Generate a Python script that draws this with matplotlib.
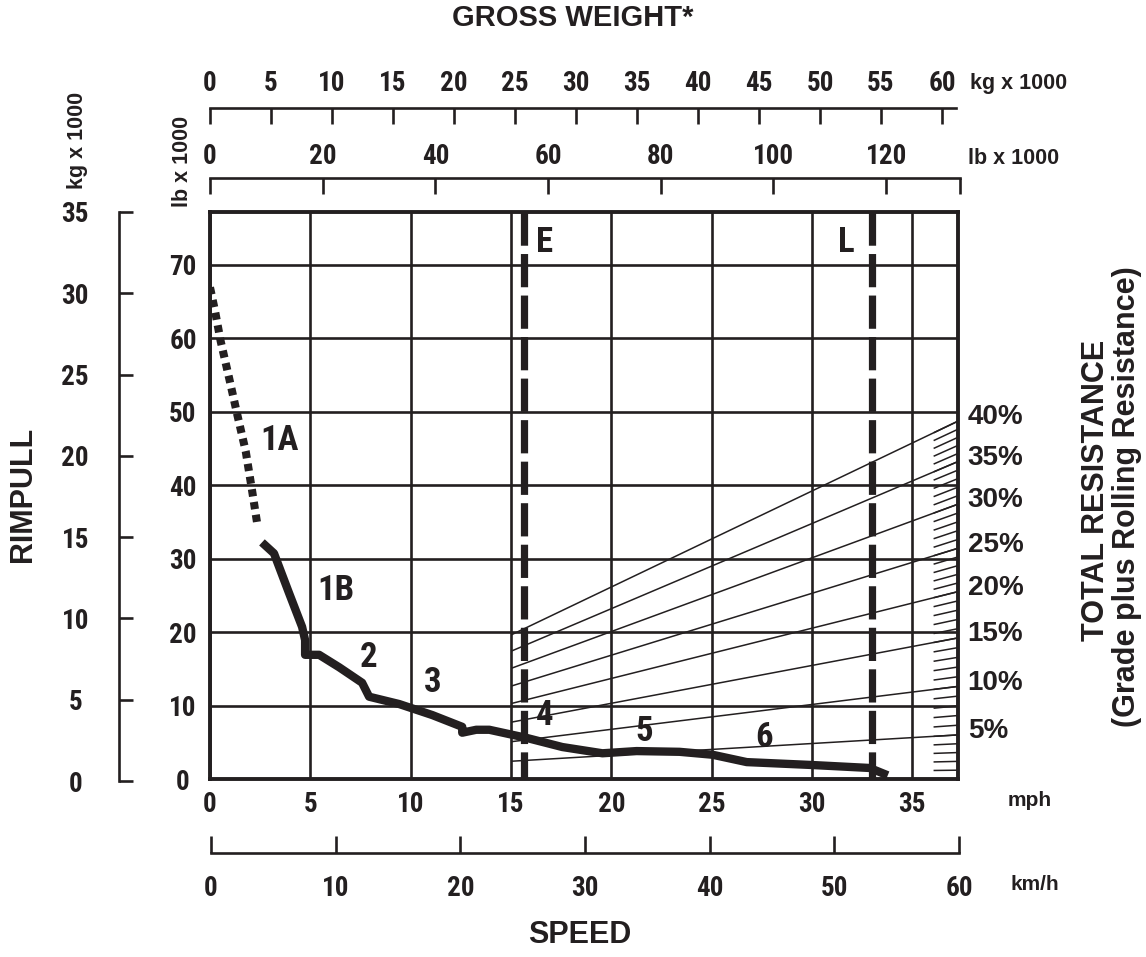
import numpy as np
import matplotlib.pyplot as plt

W, H = 1146, 957
INK = '#231f20'
NARROW = ['Roboto Condensed', 'DejaVu Sans Condensed', 'Liberation Sans Narrow',
          'Liberation Sans']
BOLD = ['Liberation Sans', 'DejaVu Sans']

# scales
mph_max = 37.28        # = 60 km/h
lb_max = 77.16         # = 35 kg x 1000
mph_ticks = [0, 5, 10, 15, 20, 25, 30, 35]
kmh_ticks = [0, 10, 20, 30, 40, 50, 60]
lb_ticks = [0, 10, 20, 30, 40, 50, 60, 70]
kg_ticks = [0, 5, 10, 15, 20, 25, 30, 35]
gw_kg_ticks = [0, 5, 10, 15, 20, 25, 30, 35, 40, 45, 50, 55, 60]
gw_lb_ticks = [0, 20, 40, 60, 80, 100, 120]
gw_kg_max = 61.15
gw_lb_max = 133.1

# rimpull curve, gear 1A (dotted)
g1a_mph = [0.0, 0.25, 0.53, 0.95, 1.35, 1.78, 2.1, 2.35]
g1a_lb = [66.9, 63.7, 59.6, 54.6, 49.7, 44.6, 39.2, 34.8]

# rimpull curve, gears 1B..6
rim_mph = [2.59, 3.19, 3.94, 4.59, 4.74, 4.74, 5.44, 6.44, 7.58, 7.93, 9.43, 11.08,
           12.57, 12.57, 13.27, 13.92, 15.77, 17.56, 19.56, 21.26, 23.4, 25.05,
           26.75, 30.04, 32.88, 33.78]
rim_lb = [32.2, 30.7, 25.3, 20.7, 18.9, 16.9, 16.9, 15.2, 13.1, 11.2, 10.2, 8.7,
          7.1, 6.3, 6.7, 6.7, 5.6, 4.35, 3.5, 3.8, 3.7, 3.3,
          2.3, 1.9, 1.5, 0.5]

gear_names = ['1A', '1B', '2', '3', '4', '5', '6']
gear_mph = [3.44, 6.29, 7.88, 11.08, 16.7, 21.66, 27.6]
gear_lb = [46.1, 25.7, 16.6, 13.1, 8.7, 6.5, 5.6]

# E / L speed markers
marker_names = ['E', 'L']
marker_mph = [15.67, 33.0]
marker_lab_mph = [16.68, 31.72]
marker_lab_lb = [73.0, 73.0]

# total resistance lines
grade_pct = [5, 10, 15, 20, 25, 30, 35, 40]
grade_end_lb = [6.0, 12.6, 19.2, 25.5, 31.4, 37.4, 43.2, 48.7]
grade_start_mph = 15.07
hatch_start_mph = 36.1


def box(x0, y0, x1, y1):
    return [x0 / W, 1 - y1 / H, (x1 - x0) / W, (y1 - y0) / H]


def num_font(ax):
    for lab in ax.get_xticklabels() + ax.get_yticklabels():
        lab.set_family(NARROW)
        lab.set_weight('bold')


def only_spine(ax, side):
    for s in ax.spines:
        ax.spines[s].set_visible(s == side)
    ax.spines[side].set_linewidth(1.9)
    ax.spines[side].set_color(INK)
    ax.patch.set_visible(False)


fig = plt.figure(figsize=(W / 100, H / 100), dpi=100)

# main chart
ax = fig.add_axes(box(210, 212, 958, 779))
ax.set_xlim(0, mph_max)
ax.set_ylim(0, lb_max)
ax.set_xticks(mph_ticks)
ax.set_yticks(lb_ticks)
ax.tick_params(length=0, labelsize=19.5, colors=INK)
ax.tick_params(axis='x', pad=9)
ax.tick_params(axis='y', pad=19.5)
num_font(ax)
plt.setp(ax.get_yticklabels(), ha='center')
ax.grid(True, color=INK, lw=1.9)
for s in ax.spines.values():
    s.set_linewidth(2.8)
    s.set_color(INK)

xs = np.array([grade_start_mph, mph_max])
for pct, end in zip(grade_pct, grade_end_lb):
    ax.plot(xs, end * xs / mph_max, color=INK, lw=1.1)
    ax.text(1.013, end + 0.5, f'{pct}%', transform=ax.get_yaxis_transform(),
            ha='left', va='center', fontsize=20, fontweight='bold',
            family=BOLD, color=INK)

hx = np.array([hatch_start_mph, mph_max])
for p in range(1, 41):
    end = np.interp(p, [0] + grade_pct, [0] + grade_end_lb)
    ax.plot(hx, end * hx / mph_max, color=INK, lw=1.1)

for x in marker_mph:
    ax.plot([x, x], [lb_max, 0], color=INK, lw=5.2, dashes=(4.6, 1.15),
            dash_capstyle='butt')
for name, x, y in zip(marker_names, marker_lab_mph, marker_lab_lb):
    ax.text(x, y, name, ha='center', va='center', fontsize=25,
            fontweight='bold', family=NARROW, color=INK)

ax.plot(g1a_mph, g1a_lb, color=INK, lw=5.8, dashes=(0.9, 0.7),
        dash_capstyle='butt', zorder=4)
ax.plot(rim_mph, rim_lb, color=INK, lw=6, solid_capstyle='butt', zorder=4)
for name, x, y in zip(gear_names, gear_mph, gear_lb):
    ax.text(x, y, name, ha='center', va='center', fontsize=25,
            fontweight='bold', family=NARROW, color=INK)

# left kg scale
axk = fig.add_axes(box(119, 212, 120, 781))
axk.set_ylim(0, 35)
axk.set_yticks(kg_ticks)
axk.set_xticks([])
only_spine(axk, 'left')
axk.tick_params(axis='y', direction='in', length=10, width=1.9, pad=31.5,
                labelsize=19.5, colors=INK)
num_font(axk)
plt.setp(axk.get_yticklabels(), ha='center')

# top gross weight scales
axt = fig.add_axes(box(210, 108, 956, 130))
axt.set_xlim(0, gw_kg_max)
axt.set_xticks(gw_kg_ticks)
axt.set_yticks([])
axt.xaxis.tick_top()
only_spine(axt, 'top')
axt.tick_params(axis='x', direction='in', length=11.5, width=1.9, pad=8,
                labelsize=19.5, colors=INK)
num_font(axt)

axl = fig.add_axes(box(210, 178, 960, 200))
axl.set_xlim(0, gw_lb_max)
axl.set_xticks(gw_lb_ticks + [gw_lb_max],
               labels=[str(t) for t in gw_lb_ticks] + [''])
axl.set_yticks([])
axl.xaxis.tick_top()
only_spine(axl, 'top')
axl.tick_params(axis='x', direction='in', length=11.5, width=1.9, pad=5.5,
                labelsize=19.5, colors=INK)
num_font(axl)

# bottom km/h scale
axs = fig.add_axes(box(211, 835, 959, 853))
axs.set_xlim(0, 60)
axs.set_xticks(kmh_ticks)
axs.set_yticks([])
only_spine(axs, 'bottom')
axs.tick_params(axis='x', direction='in', length=12, width=1.9, pad=16,
                labelsize=19.5, colors=INK)
num_font(axs)


def label(x, y, s, size, rot=0, ha='center'):
    fig.text(x / W, 1 - y / H, s, ha=ha, va='center', rotation=rot,
             fontsize=size, fontweight='bold', family=BOLD, color=INK)


label(573, 18, 'GROSS WEIGHT*', 21)
label(580, 935, 'SPEED', 22)
label(23, 494, 'RIMPULL', 22, rot=90)
label(1096, 490, 'TOTAL RESISTANCE', 22, rot=90)
label(1127, 497, '(Grade plus Rolling Resistance)', 22, rot=90)
label(970, 84, 'kg x 1000', 15.5, ha='left')
label(968, 158, 'lb x 1000', 15.5, ha='left')
label(77, 140, 'kg x 1000', 15.5, rot=90)
label(183, 161, 'lb x 1000', 15.5, rot=90)
label(1008, 800, 'mph', 15, ha='left')
label(1010, 884, 'km/h', 15, ha='left')

fig.savefig('out.png', dpi=100)
